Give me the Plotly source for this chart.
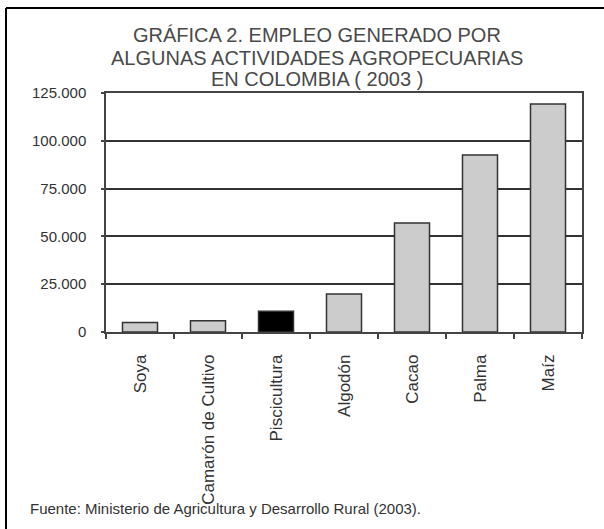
import plotly.graph_objects as go

categories = ["Soya", "Camarón de Cultivo", "Piscicultura", "Algodón", "Cacao", "Palma", "Maíz"]
empleo = [5000, 5900, 10800, 19900, 57000, 92600, 119200]
bar_colors = ["#cccccc", "#cccccc", "#000000", "#cccccc", "#cccccc", "#cccccc", "#cccccc"]
y_ticks = [0, 25000, 50000, 75000, 100000, 125000]
title_lines = ["GRÁFICA 2. EMPLEO GENERADO POR",
               "ALGUNAS ACTIVIDADES AGROPECUARIAS",
               "EN COLOMBIA ( 2003 )"]
footer = "Fuente: Ministerio de Agricultura y Desarrollo Rural (2003)."

W, H = 604, 529
L, R, T, B = 106, 22, 93, 197
pw, ph = W - L - R, H - T - B

def px(x):
    return (x - L) / pw

def py(y):
    return (H - B - y) / ph

fig = go.Figure()
fig.add_trace(go.Bar(
    x=categories, y=empleo,
    marker=dict(color=bar_colors, line=dict(color="#333333", width=1.5)),
    showlegend=False,
))

annotations = []
for i, (txt, yc) in enumerate(zip(title_lines, [35.5, 57.5, 79])):
    annotations.append(dict(
        text=txt, xref="paper", yref="paper", x=px(317), y=py(yc),
        xanchor="center", yanchor="middle", showarrow=False,
        font=dict(family="Liberation Sans, Arial, sans-serif", size=20, color="#4a4a4a"),
    ))
annotations.append(dict(
    text=footer, xref="paper", yref="paper", x=px(28), y=py(508),
    xanchor="left", yanchor="middle", showarrow=False,
    font=dict(family="Liberation Sans, Arial, sans-serif", size=15, color="#333333"),
))

shapes = [
    dict(type="line", xref="paper", yref="paper", x0=px(6), x1=px(W), y0=py(8), y1=py(8),
         line=dict(color="#000000", width=2)),
    dict(type="line", xref="paper", yref="paper", x0=px(6), x1=px(6), y0=py(8), y1=py(H),
         line=dict(color="#000000", width=2)),
]

fig.update_layout(
    width=W, height=H,
    margin=dict(l=L, r=R, t=T, b=B, autoexpand=False),
    paper_bgcolor="white", plot_bgcolor="white",
    separators=",.",
    bargap=0.485,
    annotations=annotations,
    shapes=shapes,
    font=dict(family="Liberation Sans, Arial, sans-serif", color="#333333"),
)
fig.update_xaxes(
    type="category", tickangle=-90, tickson="boundaries",
    ticks="outside", ticklen=5, tickcolor="#444444", tickwidth=1.5,
    showline=True, linecolor="#444444", linewidth=1.5, mirror=True,
    showgrid=False, ticklabelstandoff=14,
    tickfont=dict(size=17, color="#333333"),
)
fig.update_yaxes(
    range=[0, 125000], tickvals=y_ticks, tickformat=",d",
    ticks="outside", ticklen=3, tickcolor="#444444", tickwidth=1.5,
    showline=True, linecolor="#444444", linewidth=1.5, mirror=True,
    showgrid=True, gridcolor="#333333", gridwidth=1.5,
    zeroline=False, ticklabelstandoff=12,
    tickfont=dict(size=15, color="#333333"),
)

fig.write_html("out.html", config={"displayModeBar": False},
               post_script="document.body.style.margin='0px';document.body.style.overflow='hidden';")
